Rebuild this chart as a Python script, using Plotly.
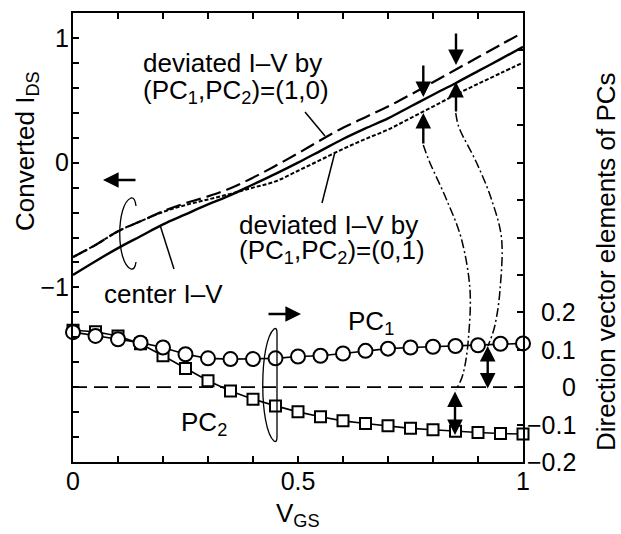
import plotly.graph_objects as go

# ---------------- data ----------------
vgs = [0.0, 0.05, 0.1, 0.15, 0.2, 0.25, 0.3, 0.35, 0.4, 0.45, 0.5,
       0.55, 0.6, 0.65, 0.7, 0.75, 0.8, 0.85, 0.9, 0.95, 1.0]
center_iv = [-0.90, -0.79, -0.685, -0.59, -0.495, -0.415, -0.335, -0.26, -0.175, -0.09, 0.0,
             0.095, 0.19, 0.275, 0.355, 0.45, 0.545, 0.637, 0.734, 0.83, 0.928]
dev_pc1 = [-0.757, -0.66, -0.55, -0.47, -0.39, -0.325, -0.27, -0.205, -0.12, -0.025, 0.075,
           0.18, 0.28, 0.365, 0.45, 0.545, 0.645, 0.745, 0.845, 0.945, 1.043]
dev_pc2 = [-0.757, -0.66, -0.55, -0.47, -0.395, -0.34, -0.295, -0.25, -0.2, -0.15, -0.065,
           0.022, 0.11, 0.19, 0.265, 0.357, 0.45, 0.544, 0.632, 0.717, 0.803]
pc1 = [0.147, 0.137, 0.128, 0.119, 0.106, 0.088, 0.077, 0.075, 0.075, 0.077, 0.082,
       0.084, 0.09, 0.097, 0.103, 0.106, 0.108, 0.110, 0.112, 0.116, 0.117]
pc2 = [0.152, 0.148, 0.137, 0.116, 0.084, 0.05, 0.017, -0.01, -0.032, -0.05, -0.066,
       -0.079, -0.09, -0.097, -0.103, -0.11, -0.114, -0.118, -0.121, -0.124, -0.125]

x_ticks = [round(i * 0.1, 1) for i in range(11)]
x_ticktext = ["0", "", "", "", "", "0.5", "", "", "", "", "1"]
y_ticks = [round(-2.4 + i * 0.2, 1) for i in range(19)]
y_ticktext = {-1.0: "\u22121", 0.0: "0", 1.0: "1"}
y2_ticks = [round(-0.2 + i * 0.1, 1) for i in range(13)]
y2_labels = [0.2, 0.1, 0.0, -0.1, -0.2]
y2_labeltext = ["0.2", "0.1", "0", "\u22120.1", "\u22120.2"]

# ---------------- layout geometry ----------------
W, H = 621, 534
PL, PR, PT, PB = 73, 523, 13, 462
XR = (0.0, 1.0)
YR = (-2.4, 1.2)
Y2R = (-0.2, 1.0)
FONT = "Liberation Sans, Arial, Helvetica, sans-serif"


def X(px):
    return XR[0] + (px - PL) / (PR - PL) * (XR[1] - XR[0])


def Y(py):
    return YR[1] - (py - PT) / (PB - PT) * (YR[1] - YR[0])


def PX(px):
    return (px - PL) / (PR - PL)


def PY(py):
    return (PB - py) / (PB - PT)


def smooth_path(pts):
    d = "M%.5f,%.5f" % (X(pts[0][0]), Y(pts[0][1]))
    n = len(pts)
    for i in range(n - 1):
        p0 = pts[i - 1] if i > 0 else pts[i]
        p1 = pts[i]
        p2 = pts[i + 1]
        p3 = pts[i + 2] if i + 2 < n else pts[i + 1]
        c1 = (p1[0] + (p2[0] - p0[0]) / 6, p1[1] + (p2[1] - p0[1]) / 6)
        c2 = (p2[0] - (p3[0] - p1[0]) / 6, p2[1] - (p3[1] - p1[1]) / 6)
        d += " C%.5f,%.5f %.5f,%.5f %.5f,%.5f" % (X(c1[0]), Y(c1[1]), X(c2[0]), Y(c2[1]), X(p2[0]), Y(p2[1]))
    return d


def raw_path(cmds):
    out = []
    for c in cmds:
        if isinstance(c, str):
            out.append(c)
        else:
            out.append("%.5f,%.5f" % (X(c[0]), Y(c[1])))
    return " ".join(out)


fig = go.Figure()

# zero line for the PC axis
fig.add_trace(go.Scatter(x=[vgs[0], vgs[-1]], y=[0, 0], yaxis="y2", mode="lines",
                         line=dict(color="black", width=1.6, dash="14px,7px"),
                         showlegend=False, hoverinfo="skip"))
# I-V curves
fig.add_trace(go.Scatter(x=vgs, y=dev_pc2, mode="lines", line=dict(color="black", width=2, dash="4px,2px"),
                         line_shape="spline", showlegend=False))
fig.add_trace(go.Scatter(x=vgs, y=dev_pc1, mode="lines", line=dict(color="black", width=2.2, dash="15px,6px"),
                         line_shape="spline", showlegend=False))
fig.add_trace(go.Scatter(x=vgs, y=center_iv, mode="lines", line=dict(color="black", width=2.4),
                         line_shape="spline", showlegend=False))
# PC direction vectors
fig.add_trace(go.Scatter(x=vgs, y=pc2, yaxis="y2", mode="lines+markers", cliponaxis=False,
                         line=dict(color="black", width=1.6),
                         marker=dict(symbol="square", size=11, color="white", line=dict(color="black", width=2)),
                         showlegend=False))
fig.add_trace(go.Scatter(x=vgs, y=pc1, yaxis="y2", mode="lines+markers", cliponaxis=False,
                         line=dict(color="black", width=1.6),
                         marker=dict(symbol="circle", size=14, color="white", line=dict(color="black", width=2)),
                         showlegend=False))

shapes = []
# leader lines
for (a, b) in [((305, 112), (325, 136)), ((322, 203), (335, 152)), ((160, 225), (174, 269))]:
    shapes.append(dict(type="line", xref="x", yref="y", x0=X(a[0]), y0=Y(a[1]), x1=X(b[0]), y1=Y(b[1]),
                       line=dict(color="black", width=1.5)))
# ring brackets
shapes.append(dict(type="path", xref="x", yref="y",
                   path=raw_path(["M", (136, 206), "Q", (135, 197), (131, 198), "C", (116, 204), (116, 263), (131, 269),
                                  "Q", (135, 270), (136, 262)]),
                   line=dict(color="black", width=1.3)))
shapes.append(dict(type="path", xref="x", yref="y",
                   path=raw_path(["M", (277, 437), "L", (277, 333), "Q", (277, 327), (274, 329), "C", (259, 342), (259, 428),
                                  (274, 441), "Q", (277, 443), (277, 437)]),
                   line=dict(color="black", width=1.3)))
# connecting dash-dot curves
curveA = [(423.3, 145), (430, 163), (446.7, 200), (461.7, 240), (470, 290), (468.3, 340), (463.3, 373), (456, 390)]
curveB = [(455.7, 113), (460, 130), (476.7, 163), (491.7, 200), (501.7, 240), (500, 290), (495, 325), (488, 346)]
for c in (curveA, curveB):
    shapes.append(dict(type="path", xref="x", yref="y", path=smooth_path(c),
                       line=dict(color="black", width=1.5, dash="9px,3px,2px,3px")))

annotations = []


def arrow(head, tail, both=False):
    d = dict(x=X(head[0]), y=Y(head[1]), ax=X(tail[0]), ay=Y(tail[1]), xref="x", yref="y", axref="x", ayref="y",
             text="", showarrow=True, arrowhead=2, arrowsize=1.3, arrowwidth=2.4, arrowcolor="black", standoff=0)
    if both:
        d.update(arrowside="end+start", startarrowhead=2, startarrowsize=1.3, startstandoff=0)
    annotations.append(d)


arrow((103, 180), (137, 180))
arrow((301, 314), (267, 314))
arrow((423.3, 97), (423.3, 64))
arrow((456, 65), (456, 32))
arrow((423.3, 113), (423.3, 145))
arrow((456, 82), (456, 113))
arrow((487.7, 346), (487.7, 390), both=True)
arrow((455, 435), (455, 390), both=True)

TF = 26


def label(text, px, py, anchor="left", size=TF, angle=0):
    annotations.append(dict(text=text, x=PX(px), y=PY(py), xref="paper", yref="paper", xanchor=anchor,
                            yanchor="middle", showarrow=False, textangle=angle,
                            font=dict(family=FONT, size=size, color="black")))


label("deviated I\u2013V by", 141, 63)
label("(PC<sub>1</sub>,PC<sub>2</sub>)=(1,0)", 141, 92)
label("deviated I\u2013V by", 237, 225)
label("(PC<sub>1</sub>,PC<sub>2</sub>)=(0,1)", 237, 251)
label("center I\u2013V", 102, 294)
label("PC<sub>1</sub>", 346, 322)
label("PC<sub>2</sub>", 179, 423)
label("Converted I<sub>DS</sub>", 26, 151, anchor="center", angle=-90)
label("Direction vector elements of PCs", 606, 262, anchor="center", angle=-90)
label("V<sub>GS</sub>", 298, 514, anchor="center")

# right axis tick labels, right aligned like the original
for v, t in zip(y2_labels, y2_labeltext):
    annotations.append(dict(text=t, x=PX(578), y=v, xref="paper", yref="y2", xanchor="right", yanchor="middle",
                            showarrow=False, font=dict(family=FONT, size=25, color="black")))

axis_common = dict(showgrid=False, zeroline=False, ticks="inside", ticklen=6, tickwidth=1.6, tickcolor="black",
                   showline=True, linewidth=2, linecolor="black",
                   tickfont=dict(family=FONT, size=25, color="black"))

fig.update_layout(
    width=W, height=H,
    margin=dict(l=PL, r=W - PR, t=PT, b=H - PB),
    paper_bgcolor="white", plot_bgcolor="white",
    font=dict(family=FONT, color="black"),
    xaxis=dict(range=list(XR), tickmode="array", tickvals=x_ticks, ticktext=x_ticktext, mirror="ticks",
               ticklabelstandoff=-4, **axis_common),
    yaxis=dict(range=list(YR), tickmode="array", tickvals=y_ticks,
               ticktext=[y_ticktext.get(v, "") for v in y_ticks], mirror=True, ticklabelstandoff=-3, **axis_common),
    yaxis2=dict(range=list(Y2R), overlaying="y", side="right", tickmode="array", tickvals=y2_ticks,
                showticklabels=False, **axis_common),
    shapes=shapes, annotations=annotations, showlegend=False,
)

fig.write_html("out.html")
